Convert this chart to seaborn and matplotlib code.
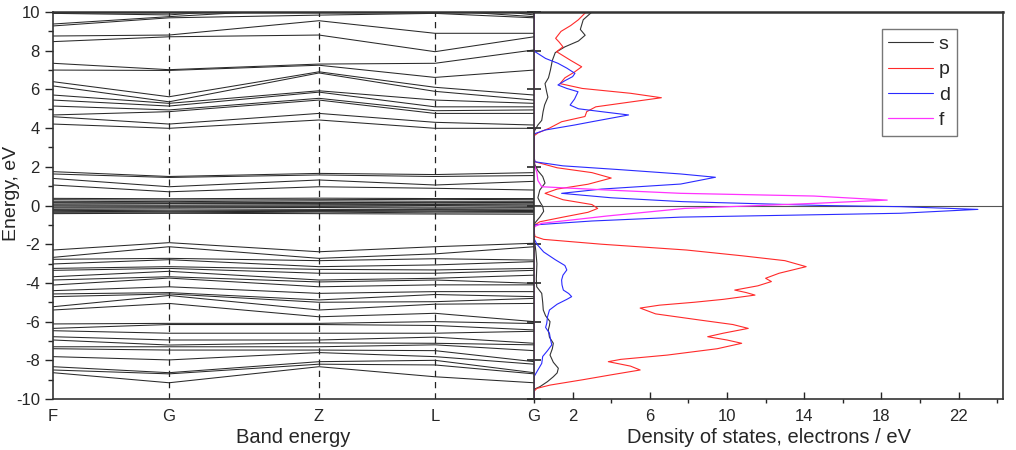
import pandas as pd
import seaborn as sns
import matplotlib.pyplot as plt
from matplotlib.ticker import MultipleLocator, NullLocator

# k-path positions and labels
kpos = [0.0, 1.0, 2.293, 3.293, 4.147]
klabels = ['F', 'G', 'Z', 'L', 'G']

# band energies (eV) at F, G, Z, L, G for each band group
upper = [
    [9.93, 9.38, 9.28, 8.76, 8.47, 7.35, 7.0, 6.4, 6.18, 5.71, 5.45, 5.14, 4.68, 4.59, 4.21],
    [9.85, 9.76, 9.7, 8.81, 8.72, 7.02, 6.98, 5.62, 5.36, 5.28, 5.14, 4.94, 4.85, 4.21, 3.99],
    [10.4, 10.2, 9.84, 9.55, 8.81, 7.31, 7.25, 6.91, 6.85, 5.93, 5.86, 5.54, 5.45, 4.76, 4.42],
    [10.4, 10.1, 9.93, 8.9, 7.95, 7.35, 6.62, 6.11, 5.9, 5.45, 5.1, 4.9, 4.76, 4.3, 3.99],
    [9.85, 9.76, 9.7, 8.9, 8.72, 8.04, 7.0, 5.71, 5.45, 5.28, 5.1, 4.94, 4.76, 4.16, 3.99],
]
middle = [
    [1.75, 1.63, 1.4, 1.06],
    [1.5, 1.45, 0.97, 0.71],
    [1.66, 1.58, 1.32, 0.97],
    [1.6, 1.5, 1.06, 0.89],
    [1.7, 1.55, 1.25, 0.8],
]
near_zero = [
    [0.37, 0.3, 0.22, 0.15, 0.08, 0.03, -0.02, -0.08, -0.13, -0.2, -0.25, -0.3, -0.37, -0.42],
    [0.35, 0.28, 0.2, 0.14, 0.1, 0.02, -0.03, -0.07, -0.12, -0.18, -0.27, -0.32, -0.38, -0.4],
    [0.38, 0.3, 0.24, 0.16, 0.1, 0.04, -0.02, -0.06, -0.1, -0.2, -0.26, -0.3, -0.34, -0.42],
    [0.36, 0.32, 0.22, 0.15, 0.08, 0.05, 0.0, -0.08, -0.14, -0.2, -0.24, -0.3, -0.38, -0.44],
    [0.36, 0.3, 0.22, 0.16, 0.09, 0.03, -0.03, -0.08, -0.12, -0.19, -0.26, -0.31, -0.37, -0.45],
]
lower = [
    [-2.3, -2.68, -2.78, -3.02, -3.25, -3.35, -3.68, -3.85, -4.11, -4.4, -4.57, -4.71, -5.23,
     -5.4, -6.12, -6.35, -6.47, -6.78, -6.95, -7.3, -7.4, -7.81, -8.33, -8.5, -8.64],
    [-1.92, -2.13, -2.73, -2.8, -3.16, -3.25, -3.4, -3.68, -3.75, -4.2, -4.5, -4.57, -4.65,
     -5.06, -6.09, -6.15, -6.6, -6.95, -7.21, -7.3, -7.47, -7.98, -8.64, -8.7, -9.16],
    [-2.39, -2.73, -2.85, -3.16, -3.3, -3.5, -3.85, -3.95, -4.2, -4.54, -4.88, -5.0, -5.4,
     -5.75, -6.09, -6.15, -6.6, -6.95, -7.1, -7.3, -7.47, -7.6, -8.07, -8.2, -8.33],
    [-2.13, -2.5, -2.75, -3.07, -3.33, -3.5, -3.76, -3.85, -4.1, -4.45, -4.6, -4.97, -5.1,
     -5.57, -6.0, -6.2, -6.6, -6.8, -7.12, -7.2, -7.5, -7.81, -8.0, -8.24, -8.85],
    [-1.95, -2.13, -2.82, -2.9, -3.25, -3.35, -3.6, -4.02, -4.1, -4.45, -4.71, -4.8, -5.06,
     -6.0, -6.1, -6.43, -6.5, -7.12, -7.2, -7.5, -8.07, -8.2, -8.64, -8.7, -9.16],
]

# partial DOS (electrons / eV) vs energy (eV)
s_E = [-10, -9.5, -9.36, -9.1, -8.85, -8.65, -8.41, -8.1, -7.73, -7.4, -7.12, -6.8, -6.43, -6.2,
       -6.0, -5.7, -5.4, -5.0, -4.54, -4.2, -3.8, -3.0, -2.4, -2.0, -1.8, -1.2, -0.9, -0.6, -0.3,
       -0.05, 0.2, 0.4, 0.6, 0.8, 1.16, 1.5, 1.8, 2.1, 2.3, 3.8, 3.9, 4.16, 4.4, 4.85, 5.2, 5.6,
       5.9, 6.3, 6.6, 7.0, 7.5, 7.9, 8.2, 8.5, 8.8, 9.1, 9.6, 10.0]
s_D = [0, 0, 0.31, 0.7, 1.0, 1.2, 1.26, 1.0, 0.83, 0.95, 1.0, 0.8, 0.74, 0.8,
       0.83, 0.6, 0.48, 0.45, 0.4, 0.14, 0.12, 0.15, 0.1, 0.05, 0, 0, 0.05, 0.3, 0.5,
       0.45, 0.3, 0.2, 0.25, 0.3, 0.57, 0.45, 0.2, 0.05, 0, 0, 0.05, 0.2, 0.4, 0.47, 0.55, 0.72,
       0.65, 0.57, 0.75, 0.85, 0.95, 1.1, 1.6, 2.3, 2.65, 2.4, 2.55, 3.0]

p_E = [-10, -9.6, -9.45, -9.28, -9.0, -8.75, -8.5, -8.3, -8.07, -7.95, -7.73, -7.4, -7.12, -6.95,
       -6.78, -6.6, -6.35, -6.15, -5.92, -5.6, -5.3, -5.15, -5.0, -4.85, -4.63, -4.5, -4.37,
       -4.15, -3.93, -3.76, -3.5, -3.16, -2.85, -2.6, -2.3, -2.0, -1.75, -1.6, -1.3, -1.0, -0.84,
       -0.6, -0.35, -0.15, 0.05, 0.3, 0.63, 0.85, 1.1, 1.42, 1.7, 1.95, 2.26, 2.5, 3.6, 3.75, 4.0,
       4.33, 4.6, 4.85, 5.1, 5.35, 5.57, 5.8, 6.05, 6.3, 6.6, 6.9, 7.17, 7.5, 7.95, 8.2, 8.45,
       8.64, 9.0, 9.3, 9.6, 10.0]
p_D = [0, 0, 0.15, 0.83, 2.55, 4.0, 5.5, 5.0, 3.85, 4.5, 6.9, 9.5, 10.76, 10.0,
       9.0, 9.8, 11.1, 10.3, 8.6, 6.3, 5.5, 6.5, 8.3, 9.8, 11.45, 11.0, 10.4,
       11.6, 12.3, 12.0, 12.7, 14.1, 13.0, 10.8, 7.9, 3.5, 0.5, 0.05, 0, 0.05, 0.3,
       1.5, 2.8, 3.3, 3.0, 1.5, 0.57, 1.2, 2.8, 4.0, 3.0, 1.2, 0.05, 0, 0, 0.2, 0.8,
       1.43, 2.64, 2.73, 3.2, 5.0, 6.6, 5.0, 2.5, 1.35, 1.6, 2.1, 2.47, 1.9, 1.17, 1.5, 1.3,
       1.12, 1.4, 1.9, 2.3, 2.7]

d_E = [-10, -8.85, -8.5, -8.16, -7.8, -7.5, -7.2, -6.9, -6.6, -6.3, -6.09, -5.75, -5.4, -5.1,
       -4.85, -4.71, -4.55, -4.37, -4.1, -3.85, -3.6, -3.33, -3.1, -2.8, -2.4, -2.0, -1.7, -1.2,
       -1.0, -0.8, -0.6, -0.4, -0.2, -0.06, 0.0, 0.2, 0.4, 0.63, 0.85, 1.11, 1.46, 1.63, 1.85,
       2.05, 2.26, 2.5, 3.7, 3.9, 4.16, 4.33, 4.68, 4.85, 5.0, 5.19, 5.5, 5.88, 6.05, 6.23, 6.45,
       6.66, 6.83, 7.1, 7.35, 7.6, 7.95, 8.1, 10.0]
d_D = [0, 0, 0.2, 0.4, 0.45, 0.7, 0.92, 0.85, 0.8, 0.6, 0.66, 0.7, 0.8, 1.2,
       1.7, 1.95, 1.8, 1.52, 1.45, 1.43, 1.5, 1.7, 1.6, 1.1, 0.5, 0.15, 0, 0,
       0.05, 3.0, 7.6, 19.0, 23.0, 19.0, 15.0, 7.7, 4.0, 1.43, 3.5, 7.6, 9.4, 7.6, 4.5,
       1.5, 0.05, 0, 0, 0.57, 2.1, 3.0, 4.9, 3.5, 2.3, 1.87, 2.1, 2.28, 1.7, 1.24, 1.6,
       2.0, 2.12, 1.7, 1.24, 0.6, 0.05, 0, 0]

f_E = [-10, -1.1, -0.92, -0.54, -0.15, 0.11, 0.28, 0.49, 0.63, 0.8, 0.97, 1.3, 1.7, 2.1, 2.3, 10.0]
f_D = [0, 0, 0.4, 3.8, 7.8, 14.5, 18.3, 14.5, 7.6, 3.8, 0.4, 0.2, 0.15, 0.02, 0, 0]

sns.set_theme(style="ticks")
plt.rcParams['font.family'] = ['Liberation Sans', 'DejaVu Sans']
plt.rcParams['axes.unicode_minus'] = False

fig = plt.figure(figsize=(10.16, 4.5), dpi=100)
ax1 = fig.add_axes([0.0522, 0.1133, 0.4734, 0.86])
ax2 = fig.add_axes([0.5256, 0.1133, 0.4616, 0.86])

# band structure
rows = []
band = 0
for grp in (upper, middle, near_zero, lower):
    for i in range(len(grp[0])):
        for k, col in zip(kpos, grp):
            rows.append((band, k, col[i]))
        band += 1
bands = pd.DataFrame(rows, columns=['band', 'k', 'E'])
sns.lineplot(data=bands, x='k', y='E', units='band', estimator=None,
             color='#2a2a2a', lw=0.75, ax=ax1, legend=False)
for k in kpos[1:4]:
    ax1.axvline(k, color='#222222', lw=0.9, ls=(0, (5, 4)), zorder=0)

ax1.set_xlim(kpos[0], kpos[-1])
ax1.set_ylim(-10, 10)
ax1.set_xticks(kpos)
ax1.set_xticklabels(klabels)
ax1.yaxis.set_major_locator(MultipleLocator(2))
ax1.yaxis.set_minor_locator(MultipleLocator(1))
ax1.tick_params(axis='x', length=0, pad=7, labelsize=12)
ax1.tick_params(axis='y', which='major', direction='out', length=6, width=1, labelsize=12)
ax1.tick_params(axis='y', which='minor', direction='out', length=3.5, width=1)
ax1.set_xlabel('Band energy', fontsize=14.5, labelpad=3)
ax1.set_ylabel('Energy, eV', fontsize=14)
ax1.yaxis.set_label_coords(-0.068, 0.53)
ax1.spines['right'].set_visible(False)

# density of states
ax2.axhline(0, color='#555555', lw=0.8, zorder=1)
sns.lineplot(x=s_D, y=s_E, orient='y', color='#333333', lw=0.8, label='s', ax=ax2)
sns.lineplot(x=p_D, y=p_E, orient='y', color='#ff2a2a', lw=0.8, label='p', ax=ax2)
sns.lineplot(x=d_D, y=d_E, orient='y', color='#2a2aff', lw=0.8, label='d', ax=ax2)
sns.lineplot(x=f_D, y=f_E, orient='y', color='#ff33ff', lw=0.9, label='f', ax=ax2)

ax2.set_xlim(0, 24.3)
ax2.set_ylim(-10, 10)
ax2.set_xticks([2, 6, 10, 14, 18, 22])
ax2.xaxis.set_minor_locator(MultipleLocator(4))
ax2.yaxis.set_major_locator(MultipleLocator(2))
ax2.yaxis.set_minor_locator(NullLocator())
ax2.tick_params(axis='x', which='major', direction='in', length=5, width=1, pad=7, labelsize=12)
ax2.tick_params(axis='x', which='minor', direction='out', length=3, width=1)
ax2.tick_params(axis='y', which='major', direction='inout', length=10, width=1.2,
                labelleft=False)
ax2.set_xlabel('Density of states, electrons / eV', fontsize=14.5, labelpad=3)
ax2.set_ylabel('')

for ax in (ax1, ax2):
    for sp in ax.spines.values():
        sp.set_color('#333333')
        sp.set_linewidth(1.2)
ax1.spines['top'].set_linewidth(1.8)
ax2.spines['top'].set_linewidth(1.8)

leg = ax2.legend(loc='upper left', bbox_to_anchor=(0.741, 0.957), borderaxespad=0,
                 fontsize=14, handlelength=2.3, handletextpad=0.3, labelspacing=0.4,
                 borderpad=0.35, fancybox=False, framealpha=1, edgecolor='#777777')
leg.get_frame().set_linewidth(1.0)

fig.savefig('out.png', dpi=100)
